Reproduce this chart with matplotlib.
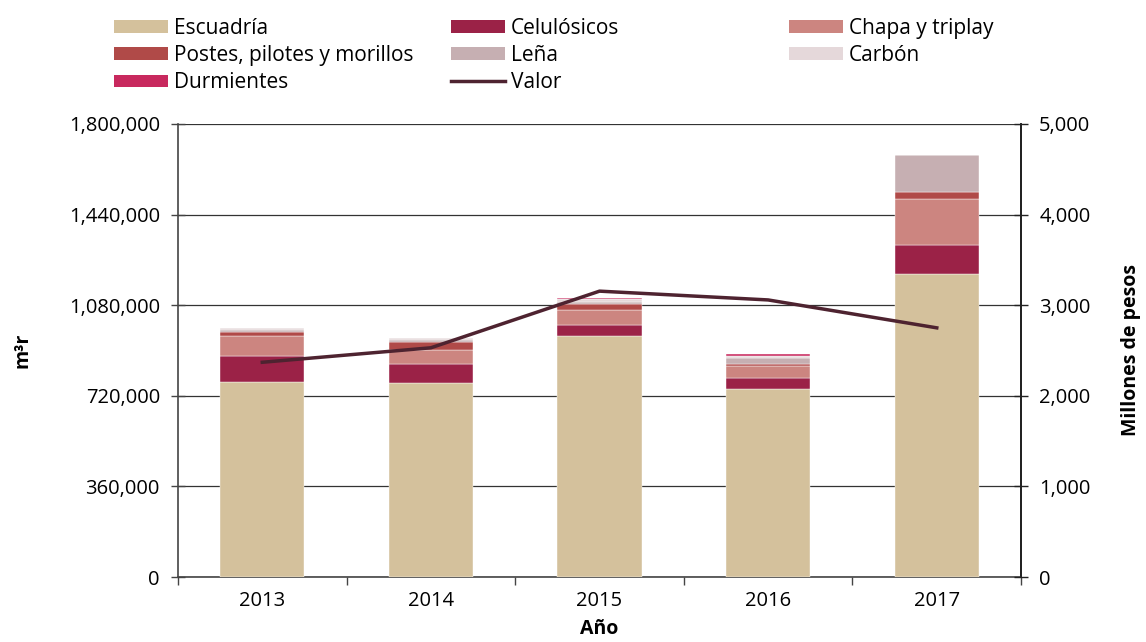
import numpy as np
import matplotlib
matplotlib.use("Agg")
import matplotlib.pyplot as plt
from matplotlib.patches import Patch
from matplotlib.lines import Line2D
from matplotlib.ticker import FuncFormatter

plt.rcParams["font.family"] = ["Open Sans", "DejaVu Sans"]
plt.rcParams["font.size"] = 14

years = ["2013", "2014", "2015", "2016", "2017"]
escuadria   = [774000, 772000, 958000, 747000, 1204000]
celulosicos = [106000, 76000, 43000, 45000, 117000]
chapa       = [78000, 54000, 58000, 45000, 180000]
postes      = [17000, 32000, 24000, 10000, 30000]
lena        = [6000, 8000, 11000, 25000, 147000]
carbon      = [7000, 8000, 9000, 8000, 0]
durmientes  = [0, 0, 7000, 5000, 0]
valor       = [2370, 2530, 3155, 3058, 2750]

series = [
    ("Escuadría", escuadria, "#D4C19C"),
    ("Celulósicos", celulosicos, "#9B2247"),
    ("Chapa y triplay", chapa, "#CC8580"),
    ("Postes, pilotes y morillos", postes, "#B04A48"),
    ("Leña", lena, "#C6AFB2"),
    ("Carbón", carbon, "#E5D8DA"),
    ("Durmientes", durmientes, "#C8295E"),
]
LINE_COL = "#4E2330"

fig = plt.figure(figsize=(11.46, 6.42), dpi=100)
ax = fig.add_axes([0.1553, 0.1012, 0.7357, 0.7057])
ax2 = ax.twinx()

x = np.arange(len(years))
bottom = np.zeros(len(years))
for name, vals, col in series:
    v = np.array(vals, dtype=float)
    ax.bar(x, v, 0.5, bottom=bottom, color=col, edgecolor="white", lw=0.3, zorder=3)
    bottom += v

ax2.plot(x, valor, color=LINE_COL, lw=2.5, zorder=5)

ax.set_xlim(-0.5, len(years) - 0.5)
ax.set_ylim(0, 1800000)
ax.set_yticks(np.arange(0, 1800001, 360000))
ax.yaxis.set_major_formatter(FuncFormatter(lambda v, p: f"{int(v):,}"))
ax.yaxis.grid(True, color="#333333", lw=0.9, zorder=0)
ax.set_axisbelow(True)
ax2.set_ylim(0, 5000)
ax2.set_yticks(np.arange(0, 5001, 1000))
ax2.yaxis.set_major_formatter(FuncFormatter(lambda v, p: f"{int(v):,}"))

ax.set_xticks(x)
ax.set_xticklabels(years)
ax.set_xticks(np.arange(-0.5, len(years)), minor=True)
ax.tick_params(axis="x", which="major", length=0, pad=10, labelsize=14.5)
ax.tick_params(axis="x", which="minor", length=6, direction="out", width=1, color="#444444")
ax.tick_params(axis="y", direction="inout", length=10, width=1, color="#444444", pad=8,
               labelsize=14.5)
ax2.tick_params(axis="y", direction="inout", length=10, width=1, color="#222222", pad=8,
                labelsize=14.5)

for a in (ax, ax2):
    a.spines["top"].set_visible(False)
ax.spines["left"].set_color("#444444")
ax.spines["bottom"].set_color("#444444")
ax2.spines["left"].set_visible(False)
ax2.spines["bottom"].set_visible(False)
ax2.spines["right"].set_color("#222222")
for s in ("left", "bottom", "right"):
    ax.spines[s].set_linewidth(1.2)
    ax2.spines[s].set_linewidth(1.2)

ax.set_ylabel("m³r", fontweight="bold", labelpad=26)
ax2.set_ylabel("Millones de pesos", fontweight="bold", labelpad=22)
ax.set_xlabel("Año", fontweight="bold", labelpad=6)

cols = dict((n, c) for n, _, c in series)
def patch(n):
    return Patch(facecolor=cols[n], edgecolor="none", label=n)

columns = [
    ([patch("Escuadría"), patch("Postes, pilotes y morillos"), patch("Durmientes")], 0.087),
    ([patch("Celulósicos"), patch("Leña"),
      Line2D([0], [0], color=LINE_COL, lw=2.5, label="Valor")], 0.381),
    ([patch("Chapa y triplay"), patch("Carbón")], 0.676),
]
for handles, xpos in columns:
    leg = fig.legend(handles=handles, loc="upper left", bbox_to_anchor=(xpos, 0.995),
                     frameon=False, handlelength=2.6, handleheight=0.55, fontsize=15,
                     handletextpad=0.25, labelspacing=0.3, borderaxespad=0.3)

fig.savefig("out.png", dpi=100)
